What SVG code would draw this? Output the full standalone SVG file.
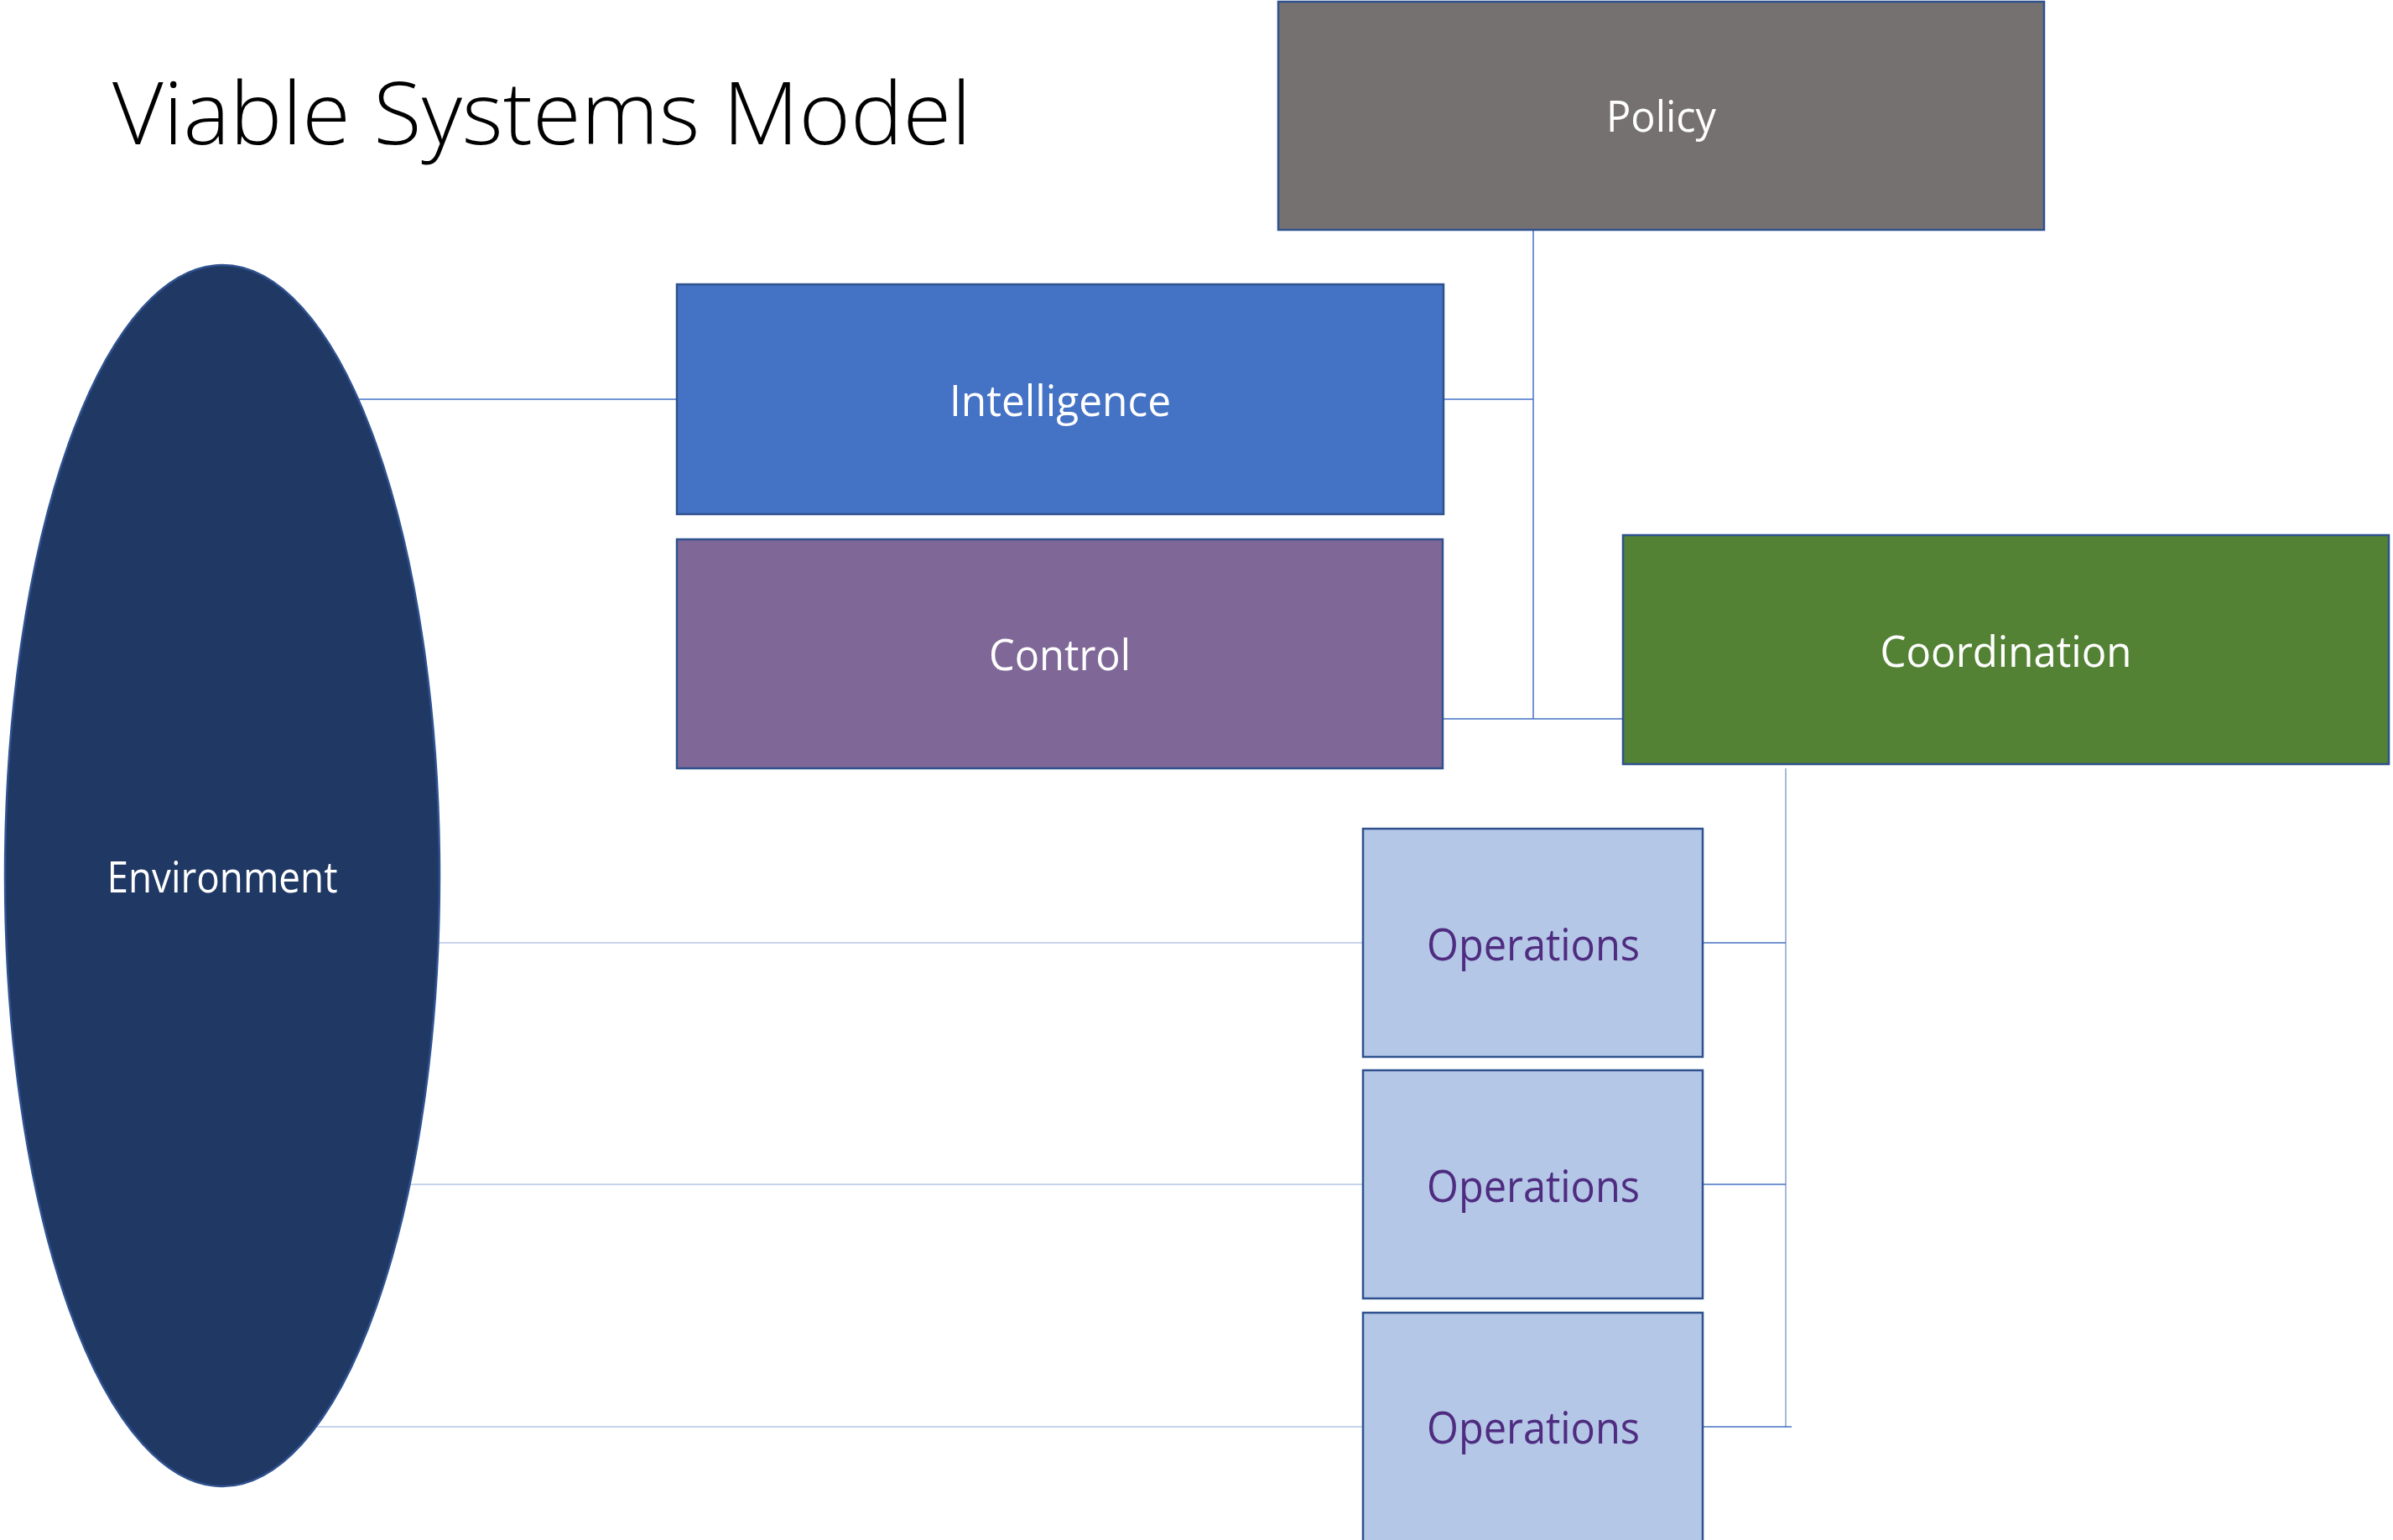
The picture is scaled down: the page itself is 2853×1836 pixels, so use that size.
<svg xmlns="http://www.w3.org/2000/svg" width="2853" height="1836" viewBox="0 0 2853 1836">
  <style>
    .box { stroke: #2f528f; stroke-width: 2.5; }
    .lbl { font-family: "Open Sans", "Noto Sans", sans-serif; font-size: 52px; fill: #ffffff; text-anchor: middle; }
    .ops { font-family: "Open Sans", "Noto Sans", sans-serif; font-size: 53px; font-weight: 500; fill: #4f2c80; text-anchor: middle; }
    .link { stroke: #4472c4; stroke-width: 1.5; fill: none; }
    .thin { stroke: #8faadc; stroke-width: 1.2; fill: none; }
    .soft { stroke: #8a9fcf; stroke-width: 1.5; fill: none; }
  </style>
  <rect x="0" y="0" width="2853" height="1836" fill="#ffffff"/>

  <text x="134" y="172" font-family="'Open Sans', 'Noto Sans', sans-serif" font-weight="300" font-size="104" fill="#000000" textLength="1024" lengthAdjust="spacingAndGlyphs">Viable Systems Model</text>

  <!-- connectors -->
  <g id="connectors">
    <line class="link" x1="417" y1="476" x2="807" y2="476"/>
    <line class="link" x1="1828" y1="274" x2="1828" y2="857"/>
    <line class="link" x1="1721" y1="476" x2="1828" y2="476"/>
    <line class="link" x1="1720" y1="857" x2="1935" y2="857"/>
    <line class="soft" x1="2129" y1="916" x2="2129" y2="1702"/>
    <line class="link" x1="2030" y1="1124" x2="2129" y2="1124"/>
    <line class="link" x1="2030" y1="1412" x2="2129" y2="1412"/>
    <line class="link" x1="2030" y1="1701" x2="2136" y2="1701"/>
    <line class="thin" x1="522" y1="1124" x2="1625" y2="1124"/>
    <line class="thin" x1="488" y1="1412" x2="1625" y2="1412"/>
    <line class="thin" x1="376" y1="1701" x2="1625" y2="1701"/>
  </g>

  <g id="environment">
    <ellipse cx="265" cy="1044" rx="259" ry="728" fill="#203864" stroke="#2f528f" stroke-width="2.5"/>
    <text class="lbl" x="265" y="1064" textLength="275" lengthAdjust="spacingAndGlyphs" font-size="49">Environment</text>
  </g>

  <g id="policy">
    <rect class="box" x="1524" y="2" width="913" height="272" fill="#767171"/>
    <text class="lbl" x="1980.5" y="157" textLength="131" lengthAdjust="spacingAndGlyphs">Policy</text>
  </g>

  <g id="intelligence">
    <rect class="box" x="807" y="339" width="914" height="274" fill="#4472c4"/>
    <text class="lbl" x="1264" y="496" textLength="264" lengthAdjust="spacingAndGlyphs">Intelligence</text>
  </g>

  <g id="control">
    <rect class="box" x="807" y="643" width="913" height="273" fill="#7f6797"/>
    <text class="lbl" x="1263.5" y="799" textLength="169" lengthAdjust="spacingAndGlyphs">Control</text>
  </g>

  <g id="coordination">
    <rect class="box" x="1935" y="638" width="913" height="273" fill="#548235"/>
    <text class="lbl" x="2391.5" y="795" textLength="300" lengthAdjust="spacingAndGlyphs">Coordination</text>
  </g>

  <g id="operations-1">
    <rect class="box" x="1625" y="988" width="405" height="272" fill="#b4c7e7"/>
    <text class="ops" x="1828" y="1145" textLength="254" lengthAdjust="spacingAndGlyphs">Operations</text>
  </g>

  <g id="operations-2">
    <rect class="box" x="1625" y="1276" width="405" height="272" fill="#b4c7e7"/>
    <text class="ops" x="1828" y="1433" textLength="254" lengthAdjust="spacingAndGlyphs">Operations</text>
  </g>

  <g id="operations-3">
    <rect class="box" x="1625" y="1565" width="405" height="285" fill="#b4c7e7"/>
    <text class="ops" x="1828" y="1721" textLength="254" lengthAdjust="spacingAndGlyphs">Operations</text>
  </g>
</svg>
